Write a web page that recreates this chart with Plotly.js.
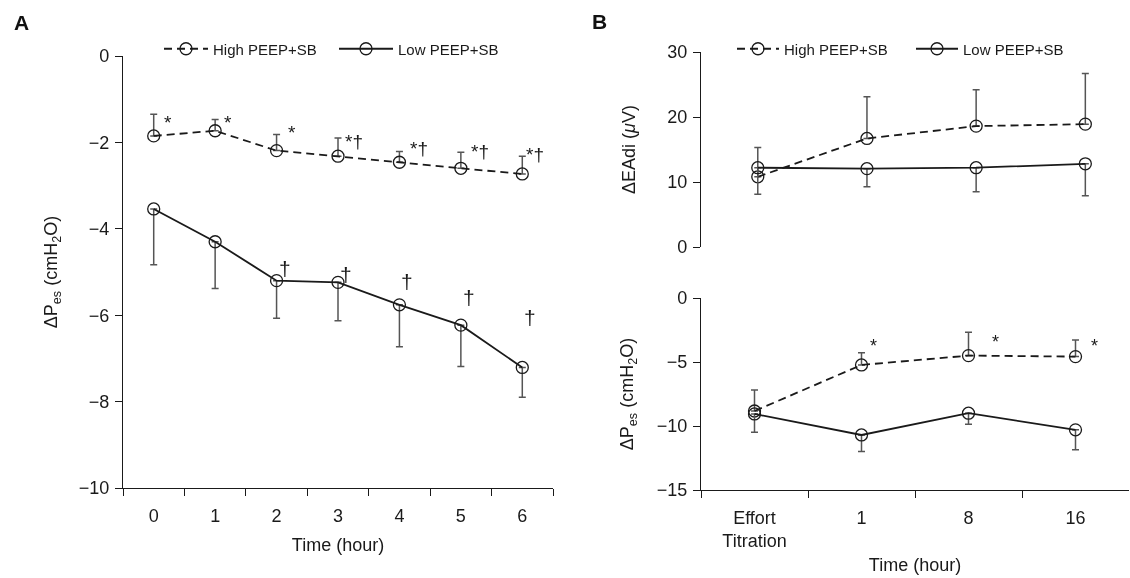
<!DOCTYPE html>
<html>
<head>
<meta charset="utf-8">
<script src="https://cdn.plot.ly/plotly-3.0.1.min.js"></script>
<style>
  html, body { margin: 0; padding: 0; background: #fff; }
  #chart { width: 1130px; height: 578px; filter: grayscale(1); }
</style>
</head>
<body>
<div id="chart"></div>
<script>
// ---------- Data ----------
// Panel A: ΔPes over time (hours)
const hoursA = ['0', '1', '2', '3', '4', '5', '6'];
const highPesA = [-1.85, -1.73, -2.19, -2.32, -2.46, -2.60, -2.73];
const highPesAErr = [0.50, 0.26, 0.37, 0.42, 0.25, 0.37, 0.41];
const lowPesA = [-3.54, -4.30, -5.20, -5.24, -5.76, -6.23, -7.21];
const lowPesAErr = [1.29, 1.08, 0.87, 0.89, 0.97, 0.96, 0.69];
const sigHighA = ['*', '*', '*', '*†', '*†', '*†', '*†'];
const sigLowA = ['', '', '†', '†', '†', '†', '†'];

// Panel B: ΔEAdi and ΔPes
const timeB = ['Effort<br>Titration', '1', '8', '16'];
const highEAdi = [10.8, 16.7, 18.6, 18.9];
const highEAdiErr = [4.5, 6.4, 5.6, 7.8];
const lowEAdi = [12.2, 12.05, 12.2, 12.8];
const lowEAdiErr = [4.1, 2.8, 3.7, 4.9];
const highPesB = [-8.83, -5.23, -4.50, -4.58];
const highPesBErr = [1.64, 0.96, 1.82, 1.30];
const lowPesB = [-9.06, -10.70, -9.00, -10.30];
const lowPesBErr = [1.43, 1.30, 0.86, 1.56];
const sigHighPesB = ['', '*', '*', '*'];

const seriesNames = ['High PEEP+SB', 'Low PEEP+SB'];

// ---------- Label placement (annotation positions, not data) ----------
const sigHighAPos = [-1.55, -1.53, -1.76, -1.99, -2.15, -2.22, -2.29];
const sigHighAShift = [8, 7, 9, 5, 9, 8, 2];
const sigLowAPos = [null, null, -4.91, -5.06, -5.23, -5.60, -6.06];
const sigHighPesBPos = [null, -3.73, -3.44, -3.73];
const sigHighPesBShift = [0, 12, 27, 19];

// ---------- Styles ----------
const INK = '#1a1a1a';
const ERR = '#555555';
const FONT = 'Liberation Sans, Arial, Helvetica, sans-serif';
const W = 1130, H = 578;
const px = v => v / W;
const py = v => 1 - v / H;
const zeros = n => new Array(n).fill(0);

function series(x, y, err, up, xa, ya, name, dashed, legendId, showLeg) {
  return {
    type: 'scatter', mode: 'lines+markers',
    x: x, y: y, xaxis: xa, yaxis: ya, name: name,
    legend: legendId, showlegend: showLeg,
    line: { color: INK, width: 1.8, dash: dashed ? '8px,5px' : 'solid' },
    marker: { symbol: 'circle-open', size: 12, color: INK, line: { width: 1.3, color: INK } },
    error_y: {
      type: 'data', symmetric: false, visible: true,
      array: up ? err : zeros(err.length),
      arrayminus: up ? zeros(err.length) : err,
      color: ERR, thickness: 1.5, width: 3.5
    },
    hoverinfo: 'x+y+name'
  };
}

const traces = [
  series(hoursA, highPesA, highPesAErr, true, 'x', 'y', seriesNames[0], true, 'legend', true),
  series(hoursA, lowPesA, lowPesAErr, false, 'x', 'y', seriesNames[1], false, 'legend2', true),
  series(timeB, highEAdi, highEAdiErr, true, 'x2', 'y2', seriesNames[0], true, 'legend3', true),
  series(timeB, lowEAdi, lowEAdiErr, false, 'x2', 'y2', seriesNames[1], false, 'legend4', true),
  series(timeB, highPesB, highPesBErr, true, 'x3', 'y3', seriesNames[0], true, 'legend3', false),
  series(timeB, lowPesB, lowPesBErr, false, 'x3', 'y3', seriesNames[1], false, 'legend4', false)
];

const tickFont = { family: FONT, size: 18, color: INK };
const titleFont = { family: FONT, size: 18, color: INK };

function xAxis(domain, anchor, range, title, standoff, visible, lblStandoff) {
  const ax = {
    domain: domain, anchor: anchor, type: 'category', range: range,
    visible: visible,
    tickson: 'boundaries', ticks: 'outside', ticklen: 7, tickwidth: 1.2, tickcolor: INK,
    showline: true, linecolor: INK, linewidth: 1.2,
    showgrid: false, zeroline: false, tickfont: tickFont,
    ticklabelstandoff: lblStandoff,
    fixedrange: true
  };
  if (title) ax.title = { text: title, font: titleFont, standoff: standoff };
  return ax;
}
function yAxis(domain, anchor, range, dtick, title, standoff) {
  return {
    domain: domain, anchor: anchor, range: range,
    tick0: 0, dtick: dtick,
    ticks: 'outside', ticklen: 7, tickwidth: 1.2, tickcolor: INK,
    showline: true, linecolor: INK, linewidth: 1.2,
    showgrid: false, zeroline: false, tickfont: tickFont,
    ticklabelstandoff: 2,
    title: { text: title, font: titleFont, standoff: standoff },
    fixedrange: true
  };
}

function legendAt(xPix, itemw) {
  return {
    x: px(xPix), y: py(49), xanchor: 'left', yanchor: 'middle',
    orientation: 'h', bgcolor: 'rgba(0,0,0,0)', borderwidth: 0,
    itemwidth: itemw, itemclick: false, itemdoubleclick: false,
    font: { family: FONT, size: 15, color: INK }
  };
}

const annotations = [];
// Panel labels
annotations.push({ text: '<b>A</b>', xref: 'paper', yref: 'paper', x: px(21), y: py(22),
  xanchor: 'center', yanchor: 'middle', showarrow: false, font: { family: FONT, size: 21, color: '#111' } });
annotations.push({ text: '<b>B</b>', xref: 'paper', yref: 'paper', x: px(599), y: py(21),
  xanchor: 'center', yanchor: 'middle', showarrow: false, font: { family: FONT, size: 21, color: '#111' } });

sigHighA.forEach((s, i) => {
  if (!s) return;
  annotations.push({ text: s, xref: 'x', yref: 'y', x: i, y: sigHighAPos[i], xshift: sigHighAShift[i],
    xanchor: 'left', yanchor: 'middle', showarrow: false, font: { family: FONT, size: 19, color: INK } });
});
sigLowA.forEach((s, i) => {
  if (!s) return;
  annotations.push({ text: s, xref: 'x', yref: 'y', x: i, y: sigLowAPos[i], xshift: 8,
    xanchor: 'center', yanchor: 'middle', showarrow: false, font: { family: FONT, size: 21, color: INK } });
});
sigHighPesB.forEach((s, i) => {
  if (!s) return;
  annotations.push({ text: s, xref: 'x3', yref: 'y3', x: i, y: sigHighPesBPos[i], xshift: sigHighPesBShift[i],
    xanchor: 'center', yanchor: 'middle', showarrow: false, font: { family: FONT, size: 18, color: INK } });
});

const layout = {
  width: W, height: H,
  margin: { l: 0, r: 0, t: 0, b: 0 },
  paper_bgcolor: '#fff', plot_bgcolor: 'rgba(0,0,0,0)',
  font: { family: FONT, color: INK },
  xaxis: xAxis([px(123), px(553)], 'y', [-0.5, 6.5], 'Time (hour)', 13, true, 11),
  yaxis: yAxis([py(488), py(56)], 'x', [-10, 0], 2, 'ΔP<sub>es</sub> (cmH<sub>2</sub>O)', 16),
  xaxis2: xAxis([px(701), px(1129)], 'y2', [-0.52, 3.4], '', 0, false, 6),
  yaxis2: yAxis([py(247), py(52)], 'x2', [0, 30], 10, 'ΔEAdi (<i>μ</i>V)', 26),
  xaxis3: xAxis([px(701), px(1129)], 'y3', [-0.5, 3.5], 'Time (hour)', 8, true, 11),
  yaxis3: yAxis([py(490), py(298)], 'x3', [-15, 0], 5, 'ΔP<sub>es</sub> (cmH<sub>2</sub>O)', 18),
  legend: legendAt(159, 44),
  legend2: legendAt(334, 54),
  legend3: legendAt(732, 42),
  legend4: legendAt(911, 42),
  annotations: annotations,
  showlegend: true
};

Plotly.newPlot('chart', traces, layout, { displayModeBar: false, staticPlot: false, responsive: false });
</script>
</body>
</html>
